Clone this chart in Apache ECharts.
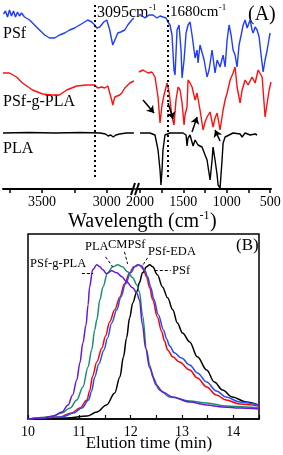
<!DOCTYPE html>
<html><head><meta charset="utf-8">
<script src="https://cdn.jsdelivr.net/npm/echarts@6/dist/echarts.min.js"></script>
<style>html,body{margin:0;padding:0;background:#fff}#c{width:283px;height:455px}</style>
</head><body><div id="c"></div>
<script>
const FONT = "'Liberation Serif','Times New Roman',serif";

// ---------- Panel A: FTIR spectra, [wavenumber (cm-1), transmittance (a.u., stacked)] ----------
const ftirPSf = [
 [3796,175],[3781,178],[3765,172],[3750,179],[3735,173],[3719,178],[3704,172],[3688,177],[3673,173],[3657,176],
 [3634,172],[3595,169],[3557,164],[3518,159],[3479,154],[3441,151],[3402,151],[3364,154],[3325,156],[3286,159],
 [3248,161],[3209,164],[3170,167],[3147,169],[3116,167],[3093,164],[3077,161],[3054,162],[3023,167],[3000,169],
 [2977,159],[2954,144],[2931,151],[2915,156],[2892,157],[2861,159],[2838,164],[2807,169],[2791,171],
 [2012,174],[1988,174],[1965,173],[1942,171],[1919,172],[1896,174],[1873,173],[1850,174],[1827,172],[1804,171],
 [1769,173],[1735,172],[1700,171],[1677,167],[1654,164],[1631,154],[1608,119],[1596,114],[1573,159],[1550,164],
 [1527,139],[1515,111],[1492,129],[1469,156],[1446,164],[1423,167],[1400,154],[1365,131],[1342,139],[1331,126],
 [1308,144],[1285,142],[1261,129],[1227,112],[1204,119],[1169,139],[1135,116],[1111,129],[1077,122],[1042,134],
 [1019,122],[996,149],[973,164],[950,154],[927,139],[904,134],[881,122],[858,144],[834,154],[811,164],
 [788,169],[765,161],[754,159],[731,169],[708,159],[696,156],[673,162],[650,159],[627,152],[604,134],
 [581,117],[558,129],[534,139],[511,151],[500,156]
];
const ftirPSfgPLA = [
 [3800,116],[3750,116],[3696,112],[3650,106],[3572,99],[3495,95],[3418,94],[3364,94],[3309,99],[3232,103],
 [3155,104],[3093,104],[3070,101],[3039,102],[3016,101],[2992,103],[2962,89],[2954,84],[2938,92],[2923,94],
 [2900,94],[2884,96],[2861,101],[2846,102],[2822,106],[2791,108],
 [2012,117],[1965,119],[1908,116],[1862,117],[1827,112],[1792,92],[1769,66],[1746,84],[1723,94],[1688,106],
 [1665,97],[1654,89],[1631,72],[1608,64],[1585,89],[1561,102],[1538,99],[1515,86],[1492,64],[1481,74],
 [1458,82],[1446,109],[1423,106],[1400,102],[1365,89],[1342,96],[1308,79],[1285,81],[1273,59],[1250,67],
 [1227,72],[1192,77],[1158,62],[1135,71],[1111,76],[1077,59],[1042,79],[1019,89],[996,96],[961,109],
 [927,116],[904,122],[881,102],[846,86],[823,99],[788,109],[754,104],[708,112],[673,106],[638,119],
 [592,112],[558,72],[534,86],[511,99],[490,107]
];
const ftirPLA = [
 [3800,56],[3600,56.5],[3400,56],[3200,56.5],[3050,56],[3010,55],[2990,53],[2970,54],[2950,52],[2930,54],
 [2900,55],[2850,56],[2791,56],
 [2000,56],[1885,56],[1827,54],[1792,39],[1769,19],[1758,4],[1746,19],[1735,39],[1712,54],[1654,56],
 [1504,56],[1469,54],[1458,43],[1446,51],[1423,54],[1400,52],[1388,43],[1365,49],[1342,48],[1331,44],
 [1308,46],[1285,42],[1250,34],[1227,29],[1215,22],[1192,9],[1169,29],[1158,42],[1135,29],[1111,14],
 [1100,4],[1077,1],[1054,29],[1042,46],[1019,52],[996,54],[927,56],[846,55],[823,52],[788,56],
 [731,54],[673,55],[650,54]
];
const ftirPeakLines = [3095, 1680];
const wnTicksLeft = [3000, 3250, 3500, 3750];
const wnLabelsLeft = [3000, 3500];
const wnTicksRight = [500, 750, 1000, 1250, 1500, 1750, 2000];
const wnLabelsRight = [500, 1000, 1500, 2000];
// arrows on PLA-related bands: [from, to] in [wavenumber, transmittance]
const ftirArrows = [
 [[1965,89],[1838,76]],
 [[1677,86],[1619,70]],
 [[1400,57],[1342,72]],
 [[1077,48],[1135,59]]
];

// ---------- Panel B: GPC traces, [elution time (min), normalized intensity] ----------
const gpcPSfgPLA = [
 [10.00,0],[10.29,0.006],[10.49,0.019],[10.66,0.045],[10.78,0.091],[10.87,0.156],[10.95,0.253],[11.01,0.364],
 [11.07,0.494],[11.13,0.610],[11.17,0.740],[11.20,0.857],[11.26,0.968],[11.34,1.0],[11.40,0.987],[11.46,0.968],
 [11.53,0.942],[11.63,0.961],[11.73,0.948],[11.83,0.922],[11.92,0.890],[12.04,0.851],[12.12,0.818],[12.17,0.773],
 [12.23,0.610],[12.29,0.461],[12.37,0.331],[12.50,0.221],[12.62,0.175],[12.82,0.143],[13.15,0.110],[13.48,0.091],
 [13.79,0.078],[14.12,0.071],[14.49,0.065]
];
const gpcPLA = [
 [10.00,0],[10.43,0.013],[10.66,0.039],[10.82,0.071],[10.95,0.123],[11.07,0.208],[11.17,0.338],[11.24,0.448],
 [11.30,0.578],[11.34,0.643],[11.40,0.773],[11.46,0.857],[11.55,0.948],[11.65,0.987],[11.75,1.0],[11.84,0.987],
 [11.94,0.955],[12.04,0.916],[12.12,0.870],[12.17,0.825],[12.23,0.675],[12.31,0.448],[12.37,0.351],[12.43,0.273],
 [12.56,0.188],[12.76,0.143],[13.15,0.117],[13.48,0.104],[13.86,0.084],[14.25,0.078],[14.49,0.071]
];
const gpcPSfEDA = [
 [10.00,0],[10.62,0.013],[10.85,0.039],[11.01,0.071],[11.15,0.123],[11.20,0.182],[11.26,0.279],[11.34,0.370],
 [11.44,0.461],[11.51,0.539],[11.59,0.630],[11.69,0.708],[11.79,0.792],[11.88,0.877],[11.98,0.948],[12.06,0.987],
 [12.14,1.0],[12.19,0.994],[12.25,0.968],[12.31,0.922],[12.37,0.851],[12.43,0.773],[12.52,0.662],[12.60,0.571],
 [12.66,0.506],[12.72,0.448],[12.82,0.403],[12.95,0.370],[13.15,0.318],[13.30,0.266],[13.48,0.208],[13.67,0.156],
 [13.86,0.123],[14.12,0.097],[14.49,0.084]
];
const gpcCMPSf = [
 [10.00,0],[10.66,0.013],[10.89,0.039],[11.05,0.071],[11.18,0.123],[11.24,0.182],[11.30,0.273],[11.38,0.357],
 [11.48,0.448],[11.55,0.526],[11.63,0.623],[11.73,0.708],[11.81,0.792],[11.90,0.877],[12.00,0.948],[12.08,0.987],
 [12.16,1.0],[12.21,0.994],[12.27,0.968],[12.33,0.922],[12.39,0.857],[12.45,0.779],[12.54,0.675],[12.64,0.578],
 [12.70,0.519],[12.76,0.474],[12.85,0.429],[12.99,0.396],[13.15,0.351],[13.30,0.299],[13.48,0.240],[13.67,0.182],
 [13.86,0.143],[14.12,0.110],[14.49,0.091]
];
const gpcPSf = [
 [10.00,0],[10.76,0.006],[11.15,0.019],[11.34,0.045],[11.53,0.091],[11.69,0.169],[11.79,0.273],[11.86,0.403],
 [11.92,0.526],[11.98,0.656],[12.04,0.753],[12.12,0.825],[12.17,0.883],[12.23,0.948],[12.31,0.987],[12.37,1.0],
 [12.43,0.987],[12.52,0.935],[12.62,0.857],[12.72,0.786],[12.82,0.708],[12.91,0.623],[13.01,0.558],[13.15,0.500],
 [13.30,0.403],[13.48,0.318],[13.63,0.240],[13.79,0.188],[13.98,0.143],[14.25,0.110],[14.49,0.091]
];
// leader lines for the curve labels: [from, to] in data coords
const gpcLeaders = {
 'PSf-g-PLA': [[11.05,0.948],[11.27,0.948]],
 'PLA': [[11.51,1.052],[11.65,0.987]],
 'CMPSf': [[11.88,1.084],[11.94,1.006]],
 'PSf-EDA': [[12.33,1.045],[12.23,0.994]],
 'PSf': [[12.47,0.968],[12.78,0.968]]
};

const chart = echarts.init(document.getElementById('c'), null, {renderer: 'canvas'});

function leftPart(d){ return d.filter(p => p[0] > 2400); }
function rightPart(d){ return d.filter(p => p[0] < 2400); }

const ftirSpecs = [
  {name: 'PSf', data: ftirPSf, color: '#1f3dff'},
  {name: 'PSf-g-PLA', data: ftirPSfgPLA, color: '#ff1010'},
  {name: 'PLA', data: ftirPLA, color: '#000000'}
];
const series = [];
ftirSpecs.forEach((s, i) => {
  const base = {type: 'line', symbol: 'none', silent: true, lineStyle: {color: s.color, width: 1.4}, itemStyle: {color: s.color}, z: 3};
  const L = Object.assign({}, base, {name: s.name + '_L', xAxisIndex: 0, yAxisIndex: 0, data: leftPart(s.data)});
  const R = Object.assign({}, base, {name: s.name + '_R', xAxisIndex: 1, yAxisIndex: 1, data: rightPart(s.data)});
  if (i === 0) {
    L.markLine = {silent: true, symbol: ['none','none'], label: {show: false},
      lineStyle: {color: '#000', width: 2, type: [2,3]},
      data: [[{coord: [ftirPeakLines[0], 184]}, {coord: [ftirPeakLines[0], 10]}]]};
    R.markLine = {silent: true, symbol: ['none','none'], label: {show: false},
      lineStyle: {color: '#000', width: 2, type: [2,3]},
      data: [[{coord: [ftirPeakLines[1], 184]}, {coord: [ftirPeakLines[1], 10]}]]};
  }
  if (i === 2) {
    R.markLine = {silent: true, symbol: ['none','arrow'], symbolSize: 7, label: {show: false},
      lineStyle: {color: '#000', width: 1.5, type: 'solid'},
      data: ftirArrows.map(a => [{coord: a[0]}, {coord: a[1]}])};
  }
  series.push(L, R);
});

const gpcSpecs = [
  {name: 'PSf', data: gpcPSf, color: '#000000'},
  {name: 'PSf-EDA', data: gpcPSfEDA, color: '#ff0000'},
  {name: 'CMPSf', data: gpcCMPSf, color: '#1f4fff'},
  {name: 'PLA', data: gpcPLA, color: '#1a8f6c'},
  {name: 'PSf-g-PLA', data: gpcPSfgPLA, color: '#6619d9'}
];
gpcSpecs.forEach(s => {
  series.push({
    type: 'line', name: s.name, xAxisIndex: 2, yAxisIndex: 2, data: s.data, symbol: 'none',
    smooth: 0.35, smoothMonotone: 'x', silent: true,
    lineStyle: {color: s.color, width: 1.5}, itemStyle: {color: s.color},
    markLine: {silent: true, symbol: ['none','none'], label: {show: false},
      lineStyle: {color: '#000', width: 1, type: [3,2]},
      data: [[{coord: gpcLeaders[s.name][0]}, {coord: gpcLeaders[s.name][1]}]]}
  });
});

const tickLbl = {color: '#000', fontFamily: FONT, fontSize: 14};
const measCtx = document.createElement('canvas').getContext('2d');
function textWidth(t, size) { measCtx.font = size + 'px ' + FONT; return measCtx.measureText(t).width; }
function txt(x, y, text, size, align) {
  return {type: 'text', x: x, y: y, silent: true,
    style: {text: text, font: size + 'px ' + FONT, fill: '#000', textAlign: align || 'left', textVerticalAlign: 'middle'}};
}
// main text + raised "-1" + optional tail
function supTxt(x, y, main, s, tail, size) {
  const ss = Math.round(size * 0.58);
  const w1 = textWidth(main, size), w2 = textWidth(s, ss);
  const out = [txt(x, y, main, size), txt(x + w1 + 0.5, y - size * 0.33, s, ss)];
  if (tail) out.push(txt(x + w1 + w2 + 1, y, tail, size));
  return out;
}
const plain = v => String(v);

chart.setOption({
  animation: false,
  backgroundColor: '#fff',
  grid: [
    {left: 3, top: 0, width: 131, height: 189, outerBoundsMode: 'none', containLabel: false},
    {left: 136, top: 0, width: 135, height: 189, outerBoundsMode: 'none', containLabel: false},
    {left: 28, top: 234, width: 231, height: 185, outerBoundsMode: 'none', containLabel: false,
     show: true, borderColor: '#000', borderWidth: 1.5, backgroundColor: 'transparent'}
  ],
  xAxis: [
    {gridIndex: 0, type: 'value', min: 2790, max: 3800, inverse: true,
     axisLine: {lineStyle: {color: '#000', width: 2}},
     axisTick: {customValues: wnTicksLeft, length: 4, lineStyle: {color: '#000', width: 1.5}},
     axisLabel: Object.assign({customValues: wnLabelsLeft, margin: 6, formatter: plain}, tickLbl),
     splitLine: {show: false}},
    {gridIndex: 1, type: 'value', min: 490, max: 2046, inverse: true,
     axisLine: {lineStyle: {color: '#000', width: 2}},
     axisTick: {customValues: wnTicksRight, length: 4, lineStyle: {color: '#000', width: 1.5}},
     axisLabel: Object.assign({customValues: wnLabelsRight, margin: 6, formatter: plain}, tickLbl),
     splitLine: {show: false}},
    {gridIndex: 2, type: 'value', min: 10, max: 14.5, interval: 0.5,
     axisLine: {lineStyle: {color: '#000', width: 1.5}},
     axisTick: {inside: true, length: 4, lineStyle: {color: '#000', width: 1.2}},
     axisLabel: Object.assign({margin: 6, formatter: v => (Math.abs(v - Math.round(v)) < 1e-6 ? String(Math.round(v)) : '')}, tickLbl),
     splitLine: {show: false}}
  ],
  yAxis: [
    {gridIndex: 0, type: 'value', min: 0, max: 189, show: false},
    {gridIndex: 1, type: 'value', min: 0, max: 189, show: false},
    {gridIndex: 2, type: 'value', min: 0, max: 1.2, show: false}
  ],
  series: series,
  graphic: [].concat(
    [
      // axis break marks
      {type: 'line', silent: true, shape: {x1: 131, y1: 195, x2: 135, y2: 183}, style: {stroke: '#000', lineWidth: 2}},
      {type: 'line', silent: true, shape: {x1: 135, y1: 195, x2: 139, y2: 183}, style: {stroke: '#000', lineWidth: 2}},
      // panel A texts
      txt(3, 34, 'PSf', 16),
      txt(3, 102, 'PSf-g-PLA', 16),
      txt(3, 149, 'PLA', 16),
      txt(248, 15, '(A)', 20)
    ],
    supTxt(97, 12.5, '3095cm', '-1', '', 16),
    supTxt(170, 12.5, '1680cm', '-1', '', 15),
    supTxt(68, 222, 'Wavelength (cm', '-1', ')', 20),
    [
      // panel B texts
      txt(30, 264, 'PSf-g-PLA', 12.5),
      txt(85, 247, 'PLA', 12.5),
      txt(108, 245, 'CMPSf', 12.5),
      txt(148, 252, 'PSf-EDA', 12.5),
      txt(172, 271, 'PSf', 12.5),
      txt(236, 246, '(B)', 17),
      txt(149, 444, 'Elution time (min)', 17, 'center')
    ]
  )
});
</script>
</body></html>
